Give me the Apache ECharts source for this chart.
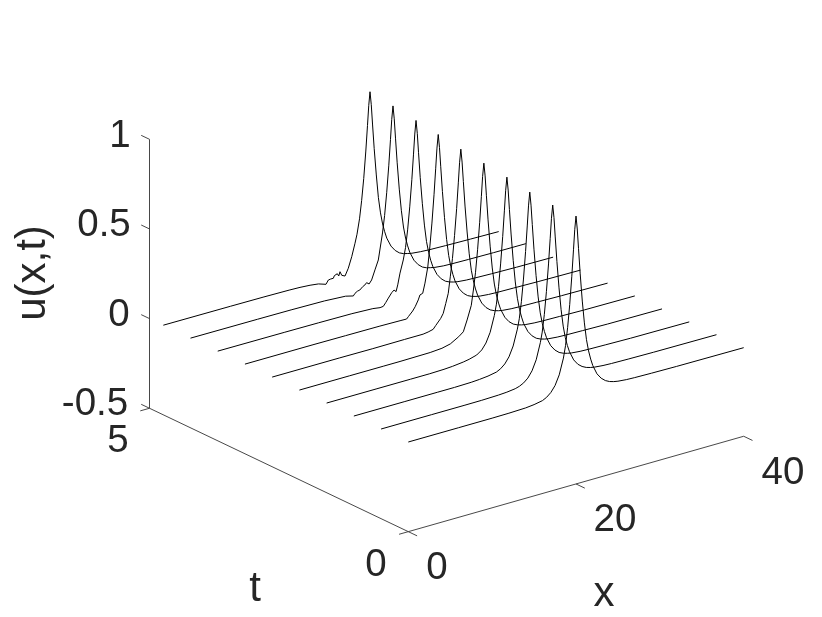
<!DOCTYPE html>
<html>
<head>
<meta charset="utf-8">
<style>html,body{margin:0;padding:0;background:#fff}#c{width:822px;height:617px}</style>
<script src="https://cdn.jsdelivr.net/npm/echarts@6/dist/echarts.min.js"></script>
</head>
<body>
<div id="c"></div>
<script>
// ---- data ----
const tValues = [0, 0.526, 1.052, 1.578, 2.104, 2.63, 3.156, 3.682, 4.208, 4.733];
const peakX   = [20, 20.47, 20.98, 21.5, 22, 22.5, 23.05, 23.65, 24.15, 24.65];
const endX = 40;
const peakOffsets = [-1.25,-1,-0.75,-0.5,-0.3,-0.15,0,0.15,0.3,0.5,0.75,1,1.25,1.5,1.75,2,2.5,3,3.5,4,4.5,5,6,7,9,12];

const footX0 = [0,6,10,12,14,15,16,16.5,17,17.5,18,18.5];
const footU0 = [0,0,0,.001,.004,.009,.018,.03,.05,.082,.135,.222];
const footX1 = [0,6,10,12,14,15,16,16.5,17,17.5,18,18.5,19];
const footU1 = [0,0,0,.0005,.003,.006,.012,.019,.031,.051,.085,.14,.23];
const footX2 = [0,6,10,12,14,15,16,17,17.5,18,18.5,19,19.5];
const footU2 = [0,0,0,0,.002,.005,.01,.019,.031,.051,.084,.138,.225];
const footX3 = [0,6,10,12.3,14,15,16.3,17,17.9,18.5,19,19.5,20];
const footU3 = [0,0,0,0,.002,.005,.012,.018,.03,.05,.082,.135,.222];
const footX4 = [0,6,10,12,15.6,17,18,19,19.55,20,20.5];
const footU4 = [0,0,0,0,.002,.007,.018,.045,.065,.125,.2];
const footX5 = [0,8,12,15.8,18,18.6,19.2,19.5,19.8,20.1,20.4,20.7,21];
const footU5 = [0,0,-.001,0,0,.004,.011,.028,.044,.06,.084,.135,.188];
const footX6 = [0,8,12,16,18.5,19.28,19.5,19.7,20,20.3,20.67,20.87,21.2,21.47];
const footU6 = [0,0,-.001,-.002,-.004,-.005,.006,.012,.03,.05,.083,.108,.113,.166];
const footX7 = [0,8,12,16,18.5,19.36,19.75,20.05,20.35,20.75,21.03,21.27,21.47,21.74,22.13];
const footU7 = [0,-.001,-.002,-.004,-.009,-.015,-.013,.005,.025,.05,.061,.049,.084,.146,.214];
const footX8 = [0,8,12,16,18.5,19.42,19.62,19.9,20.2,20.54,20.8,21,21.3,21.6,22,22.4];
const footU8 = [0,-.001,-.002,-.005,-.012,-.023,-.011,-.003,0,.014,.02,.03,.019,.037,.088,.138];
const footX9 = [0,8,12,15,16.3,17.5,18.5,19.4,19.68,19.96,20.08,20.28,20.4,20.56,20.75,20.92,21.07,21.28,21.67,22.06,22.47,22.86,23.1];
const footU9 = [0,-.001,-.002,-.004,-.006,-.01,-.016,-.03,-.01,-.008,0,-.008,.005,-.005,.011,-.004,.018,-.005,-.014,.024,.083,.153,.2];

const peakU0 = [.288,.385,.51,.665,.81,.92,.994,.92,.81,.665,.51,.385,.288,.222,.173,.134,.081,.05,.03,.018,.011,.0065,.002,0,-.002,-.004,-.006];
const peakU1 = [.285,.38,.505,.655,.795,.905,.977,.905,.795,.655,.505,.38,.285,.218,.17,.132,.08,.049,.03,.018,.011,.0065,.002,0,-.002,-.004,-.006];
const peakU2 = [.28,.372,.495,.645,.785,.895,.97,.895,.785,.645,.495,.372,.28,.216,.169,.131,.08,.049,.029,.018,.011,.0065,.002,0,-.002,-.005,-.007];
const peakU3 = [.282,.376,.5,.65,.79,.9,.974,.9,.79,.65,.5,.376,.282,.217,.17,.131,.08,.049,.029,.018,.011,.0065,.002,0,-.002,-.005,-.007];
const peakU4 = [.282,.375,.5,.65,.79,.9,.973,.9,.79,.65,.5,.375,.282,.217,.169,.131,.08,.049,.029,.018,.011,.0065,.002,0,-.002,-.005,-.007];
const peakU5 = [.28,.375,.5,.648,.788,.898,.972,.898,.788,.648,.5,.375,.28,.217,.169,.131,.08,.049,.029,.018,.011,.0065,.002,0,-.002,-.005,-.008];
const peakU6 = [.25,.36,.49,.645,.79,.9,.974,.9,.79,.65,.5,.376,.282,.217,.17,.131,.08,.049,.029,.018,.011,.0065,.002,0,-.002,-.005,-.008];
const peakU7 = [.28,.375,.5,.648,.788,.898,.972,.898,.788,.648,.5,.375,.28,.217,.169,.131,.08,.049,.029,.018,.011,.0065,.002,0,-.003,-.006,-.008];
const peakU8 = [.282,.376,.5,.65,.79,.9,.974,.9,.79,.65,.5,.376,.282,.217,.17,.131,.08,.049,.029,.018,.012,.007,.002,0,-.002,-.004,-.005];
const peakU9 = [.282,.38,.5,.65,.79,.9,.974,.9,.79,.65,.5,.37,.282,.217,.17,.131,.08,.049,.029,.018,.012,.007,.002,-.001,-.004,-.007,-.01];

const footXs = [footX0,footX1,footX2,footX3,footX4,footX5,footX6,footX7,footX8,footX9];
const footUs = [footU0,footU1,footU2,footU3,footU4,footU5,footU6,footU7,footU8,footU9];
const peakUs = [peakU0,peakU1,peakU2,peakU3,peakU4,peakU5,peakU6,peakU7,peakU8,peakU9];

const xTicks = [0, 20, 40];
const tTicks = [0, 5];
const uTicks = [-0.5, 0, 0.5, 1];
const uTickLabels = ['-0.5', '0', '0.5', '1'];

// ---- view projection of the 3D box (x, t, u) onto the page plane ----
const ORIGIN = [408.3, 442];
const X_DIR = [8.385, -2.385];
const T_DIR = [-51.76, -24.68];
const U_DIR = -179.3;
function project(x, t, u) {
  return [ORIGIN[0] + X_DIR[0]*x + T_DIR[0]*t,
          ORIGIN[1] + X_DIR[1]*x + T_DIR[1]*t + U_DIR*u];
}

const curveSeries = tValues.map((t, i) => {
  const xs = footXs[i].concat(peakOffsets.map(o => peakX[i] + o), [endX]);
  const us = footUs[i].concat(peakUs[i]);
  return {
    type: 'line', showSymbol: false, silent: true, smooth: false,
    lineStyle: {color: '#000', width: 1},
    data: xs.map((x, k) => project(x, t, us[k]))
  };
});

function axisSeg(pts) {
  return {
    type: 'line', showSymbol: false, silent: true,
    lineStyle: {color: '#333', width: 0.9},
    data: pts.map(p => project(p[0], p[1], p[2]))
  };
}
const U0 = uTicks[0], T1 = tTicks[1], X1 = xTicks[2];
const axisSeries = [
  axisSeg([[0,0,U0],[X1,0,U0]]),
  axisSeg([[0,0,U0],[0,T1,U0]]),
  axisSeg([[0,T1,U0],[0,T1,uTicks[3]]])
];
xTicks.forEach(x => axisSeries.push(axisSeg([[x,0,U0],[x,-0.17,U0]])));
tTicks.forEach(t => axisSeries.push(axisSeg([[0,t,U0],[-1.1,t,U0]])));
uTicks.forEach(u => axisSeries.push(axisSeg([[0,T1,u],[0,T1+0.16,u]])));

const TEXT = '#262626', FONT = '"Liberation Sans", Arial, sans-serif';
function label(text, x, y, size, rotation) {
  return {type:'text', x:x, y:y, rotation:rotation||0, silent:true,
    style:{text:text, fill:TEXT, font:size+'px '+FONT, textAlign:'center', textVerticalAlign:'middle'}};
}
const uLabelPos = [[95,404],[119,315],[104,225],[120,136]];
const graphics = uTickLabels.map((s,i)=>label(s,uLabelPos[i][0],uLabelPos[i][1],38.5));
graphics.push(
  label(String(tTicks[1]),118,441,38.5), label(String(tTicks[0]),376,565,38.5),
  label(String(xTicks[0]),437,568,38.5), label(String(xTicks[1]),615,520,38.5), label(String(xTicks[2]),783,473,38.5),
  label('x',604,594,42), label('t',255,589,42), label('u(x,t)',33,273,42,Math.PI/2)
);

const chart = echarts.init(document.getElementById('c'), null, {renderer:'canvas'});
chart.setOption({
  animation:false, backgroundColor:'#fff',
  grid:{left:0,right:0,top:0,bottom:0},
  xAxis:{type:'value',min:0,max:822,show:false},
  yAxis:{type:'value',min:0,max:617,inverse:true,show:false},
  series: axisSeries.concat(curveSeries),
  graphic: graphics
});
</script>
</body>
</html>
